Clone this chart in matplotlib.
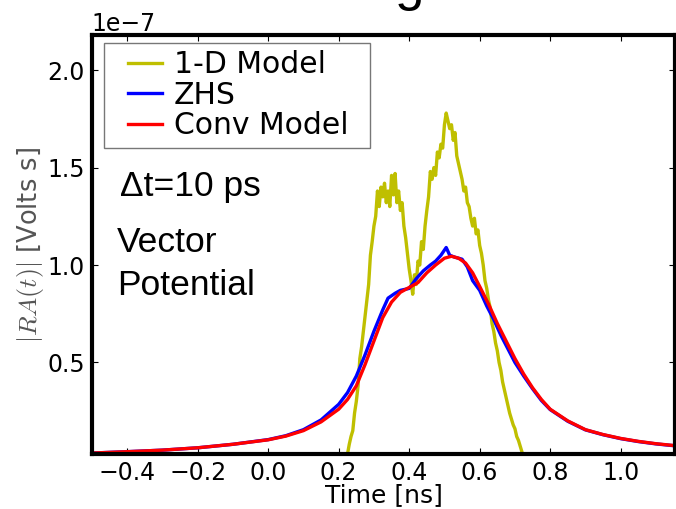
import numpy as np
import matplotlib
matplotlib.use('Agg')
import matplotlib.pyplot as plt
from matplotlib.legend_handler import HandlerLine2D

plt.rcParams['mathtext.fontset'] = 'cm'

# ── data (y in units of 1e-7 V s) ──
conv_t = [-0.5, -0.4, -0.3, -0.2, -0.1, 0.0, 0.05, 0.1, 0.15, 0.2, 0.225, 0.25,
          0.275, 0.3, 0.325, 0.35, 0.375, 0.4, 0.425, 0.45, 0.475, 0.5, 0.52,
          0.54, 0.56, 0.58, 0.6, 0.625, 0.65, 0.675, 0.7, 0.725, 0.75, 0.775,
          0.8, 0.85, 0.9, 0.95, 1.0, 1.05, 1.1, 1.16]
conv_a = [0.035, 0.042, 0.050, 0.062, 0.080, 0.103, 0.122, 0.150, 0.195, 0.260,
          0.310, 0.380, 0.490, 0.610, 0.730, 0.810, 0.860, 0.885, 0.910, 0.960,
          1.000, 1.035, 1.045, 1.035, 1.010, 0.960, 0.890, 0.800, 0.700, 0.610,
          0.520, 0.440, 0.370, 0.310, 0.260, 0.200, 0.155, 0.130, 0.110, 0.095,
          0.083, 0.072]

zhs_t = [-0.5, -0.4, -0.3, -0.2, -0.1, 0.0, 0.05, 0.1, 0.15, 0.2, 0.225, 0.25,
         0.275, 0.3, 0.325, 0.34, 0.36, 0.375, 0.4, 0.42, 0.44, 0.46, 0.475,
         0.49, 0.505, 0.515, 0.53, 0.55, 0.565, 0.58, 0.6, 0.62, 0.64, 0.66,
         0.68, 0.7, 0.725, 0.75, 0.775, 0.8, 0.85, 0.9, 0.95, 1.0, 1.05, 1.1,
         1.16]
zhs_a = [0.035, 0.042, 0.050, 0.062, 0.080, 0.104, 0.124, 0.155, 0.205, 0.285,
         0.345, 0.430, 0.540, 0.660, 0.770, 0.830, 0.855, 0.870, 0.880, 0.930,
         0.970, 1.000, 1.020, 1.050, 1.090, 1.050, 1.040, 1.030, 0.990, 0.920,
         0.870, 0.790, 0.720, 0.640, 0.570, 0.500, 0.430, 0.365, 0.305, 0.258,
         0.198, 0.154, 0.129, 0.109, 0.094, 0.082, 0.071]

oned_t = [0.220, 0.225, 0.230, 0.235, 0.240, 0.245, 0.250, 0.255, 0.260, 0.265,
          0.270, 0.275, 0.280, 0.285, 0.290, 0.295, 0.300, 0.305, 0.310, 0.315,
          0.320, 0.325, 0.330, 0.335, 0.340, 0.345, 0.350, 0.355, 0.360, 0.365,
          0.370, 0.375, 0.380, 0.385, 0.390, 0.395, 0.400, 0.405, 0.410, 0.415,
          0.420, 0.425, 0.430, 0.435, 0.440, 0.445, 0.450, 0.455, 0.460, 0.465,
          0.470, 0.475, 0.480, 0.485, 0.490, 0.495, 0.500, 0.505, 0.510, 0.515,
          0.520, 0.525, 0.530, 0.535, 0.540, 0.545, 0.550, 0.555, 0.560, 0.565,
          0.570, 0.575, 0.580, 0.585, 0.590, 0.595, 0.600, 0.605, 0.610, 0.615,
          0.620, 0.625, 0.630, 0.635, 0.640, 0.645, 0.650, 0.655, 0.660, 0.665,
          0.670, 0.675, 0.680, 0.685, 0.690, 0.695, 0.700, 0.705, 0.710, 0.715,
          0.720, 0.725]
oned_a = [0.00, 0.03, 0.08, 0.12, 0.15, 0.24, 0.30, 0.38, 0.52, 0.58,
          0.66, 0.74, 0.82, 0.90, 1.05, 1.12, 1.20, 1.25, 1.38, 1.30,
          1.40, 1.35, 1.42, 1.32, 1.38, 1.30, 1.46, 1.36, 1.47, 1.32,
          1.38, 1.28, 1.32, 1.20, 1.14, 1.06, 0.98, 0.92, 0.85, 0.95,
          0.90, 1.02, 1.00, 1.12, 1.08, 1.20, 1.28, 1.35, 1.48, 1.44,
          1.50, 1.46, 1.58, 1.55, 1.62, 1.60, 1.72, 1.78, 1.74, 1.70,
          1.72, 1.64, 1.68, 1.56, 1.52, 1.48, 1.44, 1.38, 1.40, 1.32,
          1.30, 1.24, 1.20, 1.24, 1.16, 1.18, 1.10, 1.06, 1.00, 0.92,
          0.88, 0.82, 0.78, 0.70, 0.66, 0.60, 0.56, 0.50, 0.46, 0.40,
          0.36, 0.32, 0.28, 0.24, 0.21, 0.18, 0.16, 0.12, 0.10, 0.07,
          0.04, 0.01]

labels = ['1-D Model', 'ZHS', 'Conv Model']
x_ticks = [-0.4, -0.2, 0.0, 0.2, 0.4, 0.6, 0.8, 1.0]
y_ticks = [0.5e-7, 1.0e-7, 1.5e-7, 2.0e-7]


class _IndentedLine(HandlerLine2D):
    """legend line drawn only over the right part of the handle box"""
    def create_artists(self, legend, orig_handle, xdescent, ydescent,
                       width, height, fontsize, trans):
        off = 0.33 * width
        return super().create_artists(legend, orig_handle, xdescent - off,
                                      ydescent, width - off, height,
                                      fontsize, trans)


# ── figure ──
fig = plt.figure(figsize=(6.76, 5.09), dpi=100)
ax = fig.add_axes([0.136, 0.108, 0.863, 0.823])

scale = 1e-7
ax.plot(oned_t, np.array(oned_a) * scale, color='#bfbf00', lw=2.4, label=labels[0])
ax.plot(zhs_t, np.array(zhs_a) * scale, color='#0000ff', lw=2.4, label=labels[1])
ax.plot(conv_t, np.array(conv_a) * scale, color='#ff0000', lw=2.4, label=labels[2])

ax.set_xlim(-0.5, 1.155)
ax.set_ylim(0.03e-7, 2.18e-7)
ax.set_xticks(x_ticks)
ax.set_yticks(y_ticks)

for sp in ax.spines.values():
    sp.set_linewidth(3)
ax.tick_params(direction='in', top=True, right=True, length=4, width=0.8,
               labelsize=17, pad=5)
ax.yaxis.get_offset_text().set_fontsize(17)

ax.set_xlabel('Time [ns]', fontsize=18, labelpad=-1)
ax.set_ylabel(r'$|RA(t)|$ [Volts s]', fontsize=18.5, color='#555555', labelpad=1)

leg = ax.legend(loc='upper left', bbox_to_anchor=(0.0206, 0.5, 0.456, 0.482),
                mode='expand', borderaxespad=0, fontsize=21.5,
                handlelength=1.71, handletextpad=0.37, labelspacing=0.05,
                borderpad=0.25, fancybox=False,
                handler_map={matplotlib.lines.Line2D: _IndentedLine()})
leg.get_frame().set_edgecolor('#555555')
leg.get_frame().set_linewidth(1.0)

txt = dict(transform=ax.transAxes, fontsize=25.5, family='Liberation Sans',
           va='baseline')
ax.text(0.048, 0.616, '\u0394t=10 ps', **txt)
ax.text(0.043, 0.482, 'Vector', **txt)
ax.text(0.043, 0.379, 'Potential', **txt)

# bottom of the cropped title glyph
fig.text(0.605, 1.0, 'g', fontsize=38, family='Liberation Sans',
         ha='center', va='baseline')

fig.savefig('out.png', dpi=100)
